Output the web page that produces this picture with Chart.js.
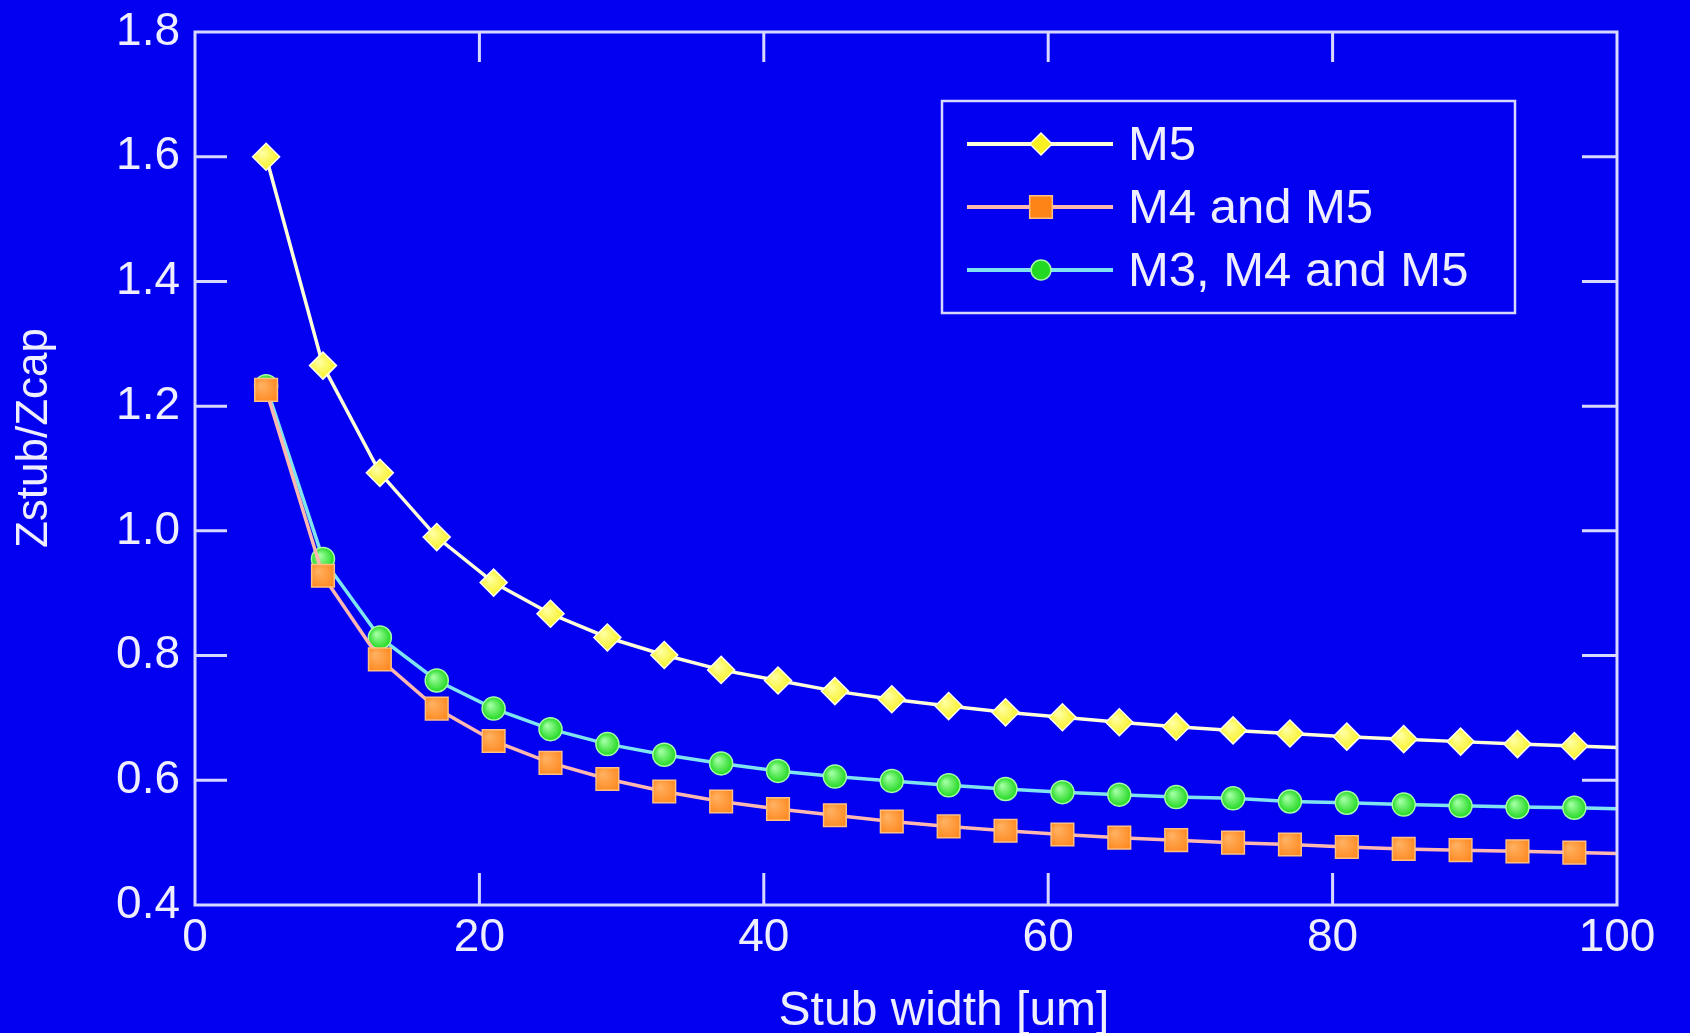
<!DOCTYPE html>
<html>
<head>
<meta charset="utf-8">
<title>Zstub/Zcap vs stub width</title>
<script src="https://cdn.jsdelivr.net/npm/chart.js@4.4.1/dist/chart.umd.min.js"></script>
<style>
    html, body { margin: 0; padding: 0; background: #0300f2; overflow: hidden; }
    #wrap { width: 1690px; height: 1033px; position: relative; }
</style>
</head>
<body>
<div id="wrap"><canvas id="chart"></canvas></div>
<script>
// stub width in um (last point sits just past the axis end, the line runs into the frame)
const stubWidth = [5, 9, 13, 17, 21, 25, 29, 33, 37, 41, 45, 49, 53, 57, 61, 65, 69, 73, 77, 81, 85, 89, 93, 97, 101];
const m5 = [1.600, 1.265, 1.093, 0.990, 0.917, 0.867, 0.829, 0.801, 0.777, 0.760, 0.743, 0.730, 0.719, 0.709, 0.701, 0.693, 0.686, 0.680, 0.675, 0.670, 0.666, 0.662, 0.658, 0.655, 0.652];
const m4m5 = [1.226, 0.928, 0.794, 0.715, 0.663, 0.628, 0.602, 0.582, 0.566, 0.554, 0.544, 0.534, 0.526, 0.519, 0.513, 0.508, 0.504, 0.500, 0.497, 0.493, 0.490, 0.488, 0.486, 0.484, 0.482];
const m3m4m5 = [1.232, 0.955, 0.829, 0.760, 0.715, 0.682, 0.658, 0.641, 0.627, 0.615, 0.606, 0.599, 0.592, 0.586, 0.581, 0.577, 0.573, 0.571, 0.566, 0.564, 0.561, 0.559, 0.557, 0.556, 0.554];
const seriesLabels = ['M5', 'M4 and M5', 'M3, M4 and M5'];
const xRange = [0, 100];
const yRange = [0.4, 1.8];
const xStep = 20;
const yStep = 0.2;
const xTitle = 'Stub width [um]';
const yTitle = 'Zstub/Zcap';

const textColor = '#eeeeff';
const frameColor = '#d8d8ff';
const fontFamily = 'Arial, "Liberation Sans", Helvetica, sans-serif';

function points(ys) {
    return stubWidth.map((x, i) => ({ x: x, y: ys[i] }));
}

// hide the marker of any point beyond the axis end
function radius(r) {
    return ctx => (ctx.raw && ctx.raw.x > xRange[1]) ? 0 : r;
}

// small highlight on the markers, like the glossy symbols in the original
function glossy(base, light, r) {
    return c => {
        if (!c.parsed || !c.chart.chartArea) return base;
        const px = c.chart.scales.x.getPixelForValue(c.parsed.x);
        const py = c.chart.scales.y.getPixelForValue(c.parsed.y);
        if (!isFinite(px) || !isFinite(py)) return base;
        const g = c.chart.ctx.createRadialGradient(px - r * 0.3, py - r * 0.3, 1, px, py, r);
        g.addColorStop(0, light);
        g.addColorStop(1, base);
        return g;
    };
}

const styles = [
    { line: '#ffffd8', fill: '#f8f020', light: '#ffffa0', edge: '#fffff0', shape: 'rectRot', r: 13.5, lr: 11 },
    { line: '#ffb8b0', fill: '#ff8418', light: '#ffb060', edge: '#ffc080', shape: 'rect', r: 16, lr: 16 },
    { line: '#80e4f0', fill: '#22d822', light: '#a0ffa0', edge: '#a8ffa8', shape: 'circle', r: 11.5, lr: 10 }
];

const datasets = [m5, m4m5, m3m4m5].map((ys, i) => ({
    label: seriesLabels[i],
    data: points(ys),
    borderColor: styles[i].line,
    borderWidth: 3.5,
    pointStyle: styles[i].shape,
    pointRadius: radius(styles[i].r),
    pointBackgroundColor: glossy(styles[i].fill, styles[i].light, styles[i].r),
    pointBorderColor: styles[i].edge,
    pointBorderWidth: 1.5,
    tension: 0
}));

// frame round the plot plus inward tick marks on all four sides
const frameTicks = {
    id: 'frameTicks',
    afterDatasetsDraw(chart) {
        const { ctx, chartArea: a, scales: { x, y } } = chart;
        ctx.save();
        ctx.strokeStyle = frameColor;
        ctx.lineWidth = 3;
        ctx.beginPath();
        x.ticks.forEach(t => {
            const px = x.getPixelForValue(t.value);
            if (px <= a.left + 2 || px >= a.right - 2) return;
            ctx.moveTo(px, a.bottom); ctx.lineTo(px, a.bottom - 32);
            ctx.moveTo(px, a.top); ctx.lineTo(px, a.top + 30);
        });
        y.ticks.forEach(t => {
            const py = y.getPixelForValue(t.value);
            if (py <= a.top + 2 || py >= a.bottom - 2) return;
            ctx.moveTo(a.left, py); ctx.lineTo(a.left + 32, py);
            ctx.moveTo(a.right, py); ctx.lineTo(a.right - 35, py);
        });
        ctx.stroke();
        ctx.strokeRect(a.left, a.top, a.right - a.left, a.bottom - a.top);
        ctx.restore();
    }
};

function marker(ctx, shape, cx, cy, r) {
    ctx.beginPath();
    if (shape === 'rectRot') {
        ctx.moveTo(cx, cy - r); ctx.lineTo(cx + r, cy); ctx.lineTo(cx, cy + r); ctx.lineTo(cx - r, cy);
        ctx.closePath();
    } else if (shape === 'rect') {
        const h = r * Math.SQRT1_2;
        ctx.rect(cx - h, cy - h, 2 * h, 2 * h);
    } else {
        ctx.arc(cx, cy, r, 0, Math.PI * 2);
    }
    ctx.fill();
    ctx.stroke();
}

// boxed legend inside the plot, top right
const boxLegend = {
    id: 'boxLegend',
    afterDraw(chart) {
        const { ctx, chartArea: a } = chart;
        const left = a.left + 747, top = a.top + 69, w = 573, h = 212;
        ctx.save();
        ctx.strokeStyle = frameColor;
        ctx.lineWidth = 2.5;
        ctx.strokeRect(left, top, w, h);
        ctx.font = '49px ' + fontFamily;
        ctx.textBaseline = 'middle';
        ctx.textAlign = 'left';
        chart.data.datasets.forEach((ds, i) => {
            const cy = top + 43 + i * 63;
            const st = styles[i];
            ctx.strokeStyle = ds.borderColor;
            ctx.lineWidth = 4;
            ctx.beginPath();
            ctx.moveTo(left + 25, cy); ctx.lineTo(left + 171, cy);
            ctx.stroke();
            ctx.fillStyle = st.fill;
            ctx.strokeStyle = st.edge;
            ctx.lineWidth = 1.5;
            marker(ctx, st.shape, left + 99, cy, st.lr);
            ctx.fillStyle = textColor;
            ctx.fillText(ds.label, left + 186, cy + 2);
        });
        ctx.restore();
    }
};

// axis titles, placed where the original has them
const axisTitles = {
    id: 'axisTitles',
    afterDraw(chart) {
        const { ctx, chartArea: a } = chart;
        ctx.save();
        ctx.fillStyle = textColor;
        ctx.textAlign = 'center';
        ctx.textBaseline = 'alphabetic';
        ctx.font = '48px ' + fontFamily;
        ctx.fillText(xTitle, a.left + 749, a.bottom + 120);
        ctx.translate(47, a.top + 406);
        ctx.rotate(-Math.PI / 2);
        ctx.font = '44px ' + fontFamily;
        ctx.fillText(yTitle, 0, 0);
        ctx.restore();
    }
};

new Chart(document.getElementById('chart'), {
    type: 'line',
    data: { datasets: datasets },
    options: {
        responsive: true,
        maintainAspectRatio: false,
        animation: false,
        layout: { padding: { top: 32, right: 73, bottom: 0, left: 0 } },
        plugins: {
            legend: { display: false },
            tooltip: { enabled: false }
        },
        scales: {
            x: {
                type: 'linear',
                min: xRange[0],
                max: xRange[1],
                afterFit: s => { s.height = 128; s.paddingLeft = 0; s.paddingRight = 0; },
                grid: { display: false, drawTicks: false },
                border: { display: false },
                ticks: {
                    stepSize: xStep,
                    color: textColor,
                    padding: 6,
                    maxRotation: 0,
                    font: { family: fontFamily, size: 46 }
                }
            },
            y: {
                min: yRange[0],
                max: yRange[1],
                afterFit: s => { s.width = 195; s.paddingTop = 0; s.paddingBottom = 0; },
                grid: { display: false, drawTicks: false },
                border: { display: false },
                ticks: {
                    stepSize: yStep,
                    color: textColor,
                    padding: 15,
                    font: { family: fontFamily, size: 46 },
                    callback: v => Number(v).toFixed(1)
                }
            }
        }
    },
    plugins: [frameTicks, boxLegend, axisTitles]
});
</script>
</body>
</html>
